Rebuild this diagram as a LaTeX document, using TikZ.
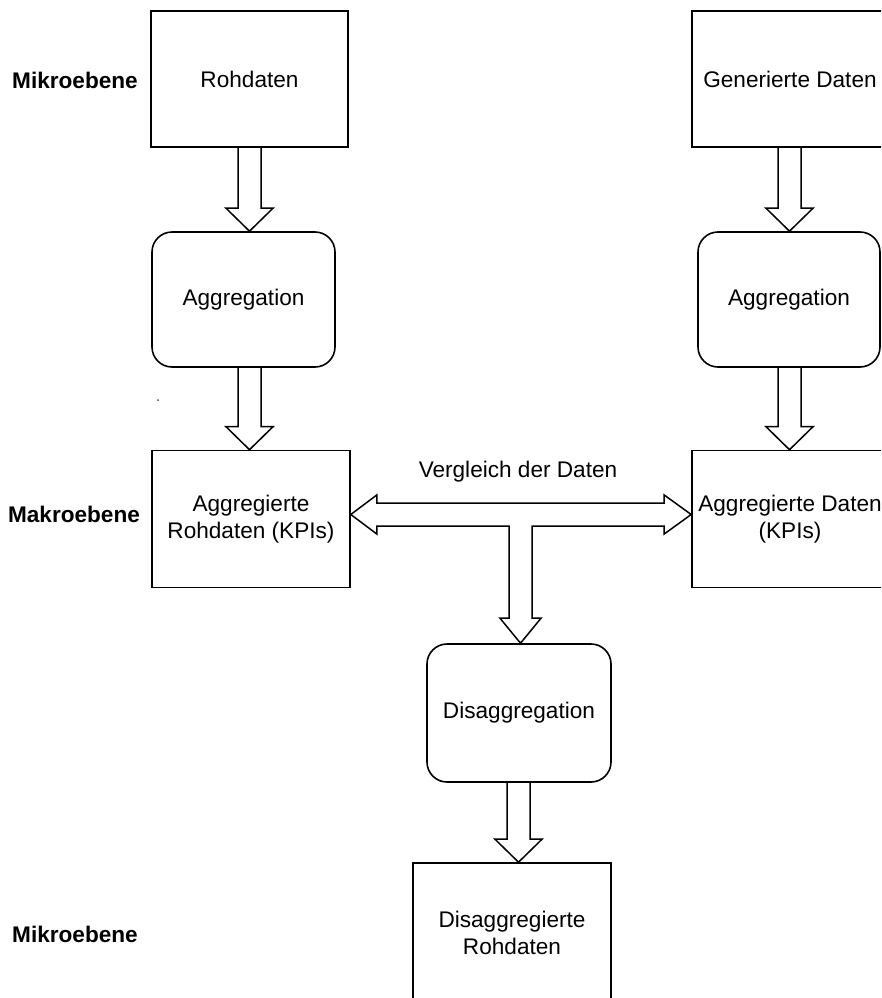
\documentclass[tikz,border=0pt]{standalone}
\usepackage{fontspec}
\setmainfont{Liberation Sans}
\usetikzlibrary{calc}
\tikzset{
  txt/.style={font=\fontsize{22.6}{27.5}\selectfont, text=black, align=center},
  box/.style={txt, draw=black, line width=1.6pt, rectangle, inner sep=0pt},
  rbox/.style={box, rounded corners=20pt},
  lvl/.style={font=\fontsize{22.6}{27}\selectfont\bfseries, text=black},
  blockline/.style={draw=black, line width=1.5pt, line join=miter}
}
\newcommand\vblock[2]{%
  \draw[blockline] ($(#1)+(-11.5,0)$) -- ($(#2)+(-11.5,-23)$) -- ($(#2)+(-23.5,-23)$)
    -- (#2) -- ($(#2)+(23.5,-23)$) -- ($(#2)+(11.5,-23)$) -- ($(#1)+(11.5,0)$);}
\begin{document}
\begin{tikzpicture}[x=1pt,y=-1pt]
\clip (0,0) rectangle (881,998);
\fill[white] (0,0) rectangle (881,998);

% level labels
\node[lvl] (l1) at (75,80) {Mikroebene};
\node[lvl] (l2) at (74,514) {Makroebene};
\node[lvl] (l3) at (75,934) {Mikroebene};

% stray dot in the original
\fill[black!70] (158,400) circle (1pt);

% boxes
\node[box, minimum width=197pt, minimum height=136pt] (roh) at (249.5,79) {Rohdaten};
\node[box, minimum width=196pt, minimum height=136pt] (gen) at (790,79) {Generierte Daten};
\node[rbox, minimum width=183pt, minimum height=135pt] (agg1) at (243.5,299.5) {Aggregation};
\node[rbox, minimum width=182pt, minimum height=135pt] (agg2) at (789,299.5) {Aggregation};
\node[box, minimum width=198pt, minimum height=137pt] (aggroh) at (251,519) {Aggregierte\\Rohdaten (KPIs)};
\node[box, minimum width=196pt, minimum height=137pt] (aggdat) at (790,519) {Aggregierte Daten\\(KPIs)};
\node[rbox, minimum width=184pt, minimum height=138pt] (disagg) at (519,713) {Disaggregation};
\node[box, minimum width=198pt, minimum height=140pt] (disroh) at (512,933) {Disaggregierte\\Rohdaten};

% vertical block arrows
\coordinate (a1s) at (roh.south);
\coordinate (a1e) at (roh.south |- agg1.north);
\coordinate (a2s) at (roh.south |- agg1.south);
\coordinate (a2e) at (roh.south |- aggroh.north);
\coordinate (b1s) at (789.5,0 |- gen.south);
\coordinate (b1e) at (789.5,0 |- agg2.north);
\coordinate (b2s) at (789.5,0 |- agg2.south);
\coordinate (b2e) at (789.5,0 |- aggdat.north);
\coordinate (d1s) at (518.5,0 |- disagg.south);
\coordinate (d1e) at (518.5,0 |- disroh.north);
\vblock{a1s}{a1e}
\vblock{a2s}{a2e}
\vblock{b1s}{b1e}
\vblock{b2s}{b2e}
\vblock{d1s}{d1e}

% T-shaped comparison arrow
\coordinate (cL) at (aggroh.east |- 0,514.5);
\coordinate (cR) at (aggdat.west |- 0,514.5);
\coordinate (cD) at (520.5,0 |- disagg.north);
\draw[blockline] (cL) -- ($(cL)+(26,-19.5)$) -- ($(cL)+(26,-11.5)$)
  -- ($(cR)+(-27,-11.5)$) -- ($(cR)+(-27,-19.5)$) -- (cR)
  -- ($(cR)+(-27,19.5)$) -- ($(cR)+(-27,11.5)$)
  -- ($(cD |- cR)+(11.5,11.5)$) -- ($(cD)+(11.5,-25)$) -- ($(cD)+(20.5,-25)$)
  -- (cD) -- ($(cD)+(-20.5,-25)$) -- ($(cD)+(-11.5,-25)$)
  -- ($(cD |- cL)+(-11.5,11.5)$) -- ($(cL)+(26,11.5)$) -- ($(cL)+(26,19.5)$) -- cycle;
\node[txt] (cmp) at (518,472) {Vergleich der Daten};
\end{tikzpicture}
\end{document}
